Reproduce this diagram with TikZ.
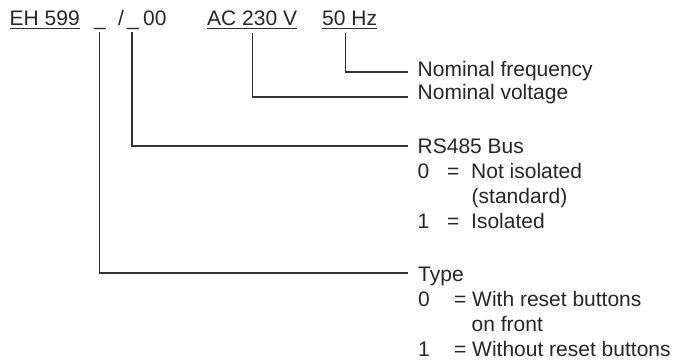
\documentclass[tikz,border=0pt]{standalone}
\usepackage{fontspec}
\setmainfont{Liberation Sans}

\newcommand\optline[4]{\makebox[#1][l]{#2}\makebox[#3][l]{=}#4}

\begin{document}
\begin{tikzpicture}[x=1pt,y=-1pt,
    every node/.style={font=\fontsize{21}{24.7}\selectfont,text=black!85},
    code/.style={anchor=base west,inner sep=0pt},
    lbl/.style={anchor=base west,inner sep=0pt},
    lead/.style={line width=1.2pt,black!80},
    uline/.style={line width=1.3pt,black!80}]
  \useasboundingbox (0,0) rectangle (685,363);

  \node[code] (eh)    at (9.5,26)  {EH 599};
  \node[code] (typ)   at (94,26)   {\_};
  \node[code] (slash) at (118,26)  {/};
  \node[code] (bus)   at (127,26)  {\_};
  \node[code] (zero)  at (143,26)  {00};
  \node[code] (volt)  at (207,26)  {AC 230 V};
  \node[code] (freq)  at (322,26)  {50 Hz};

  \draw[uline] ([yshift=-2.5pt]eh.base west)   -- ([yshift=-2.5pt]eh.base east);
  \draw[uline] ([yshift=-2.5pt]volt.base west) -- ([yshift=-2.5pt]volt.base east);
  \draw[uline] ([yshift=-2.5pt]freq.base west) -- ([yshift=-2.5pt]freq.base east);

  \node[lbl] (freqL) at (417.5,77) {Nominal frequency};
  \node[lbl] (voltL) at (417.5,100) {Nominal voltage};
  \node[lbl] (busL)  at (417.5,154) {\begin{tabular}[t]{@{}l@{}}
      RS485 Bus\\
      \optline{29.5pt}{0}{24pt}{Not isolated}\\
      \hspace*{54pt}(standard)\\
      \optline{29.5pt}{1}{24pt}{Isolated}
    \end{tabular}};
  \node[lbl] (typeL) at (418,282) {\begin{tabular}[t]{@{}l@{}}
      Type\\
      \optline{36pt}{0}{18pt}{With reset buttons}\\
      \hspace*{53.5pt}on front\\
      \optline{36pt}{1}{18pt}{Without reset buttons}
    \end{tabular}};

  \coordinate (freqEnd) at (408,72);
  \coordinate (voltEnd) at (408,97);
  \coordinate (busEnd)  at (408,146);
  \coordinate (typeEnd) at (408,273);

  \draw[lead] ([xshift=-4.5pt,yshift=-7pt]freq.south) |- (freqEnd);
  \draw[lead] ([yshift=-7pt]volt.south) |- (voltEnd);
  \draw[lead] ([xshift=-1pt,yshift=-1.5pt]bus.south) |- (busEnd);
  \draw[lead] ([xshift=-0.5pt,yshift=-1.5pt]typ.south) |- (typeEnd);
\end{tikzpicture}
\end{document}
